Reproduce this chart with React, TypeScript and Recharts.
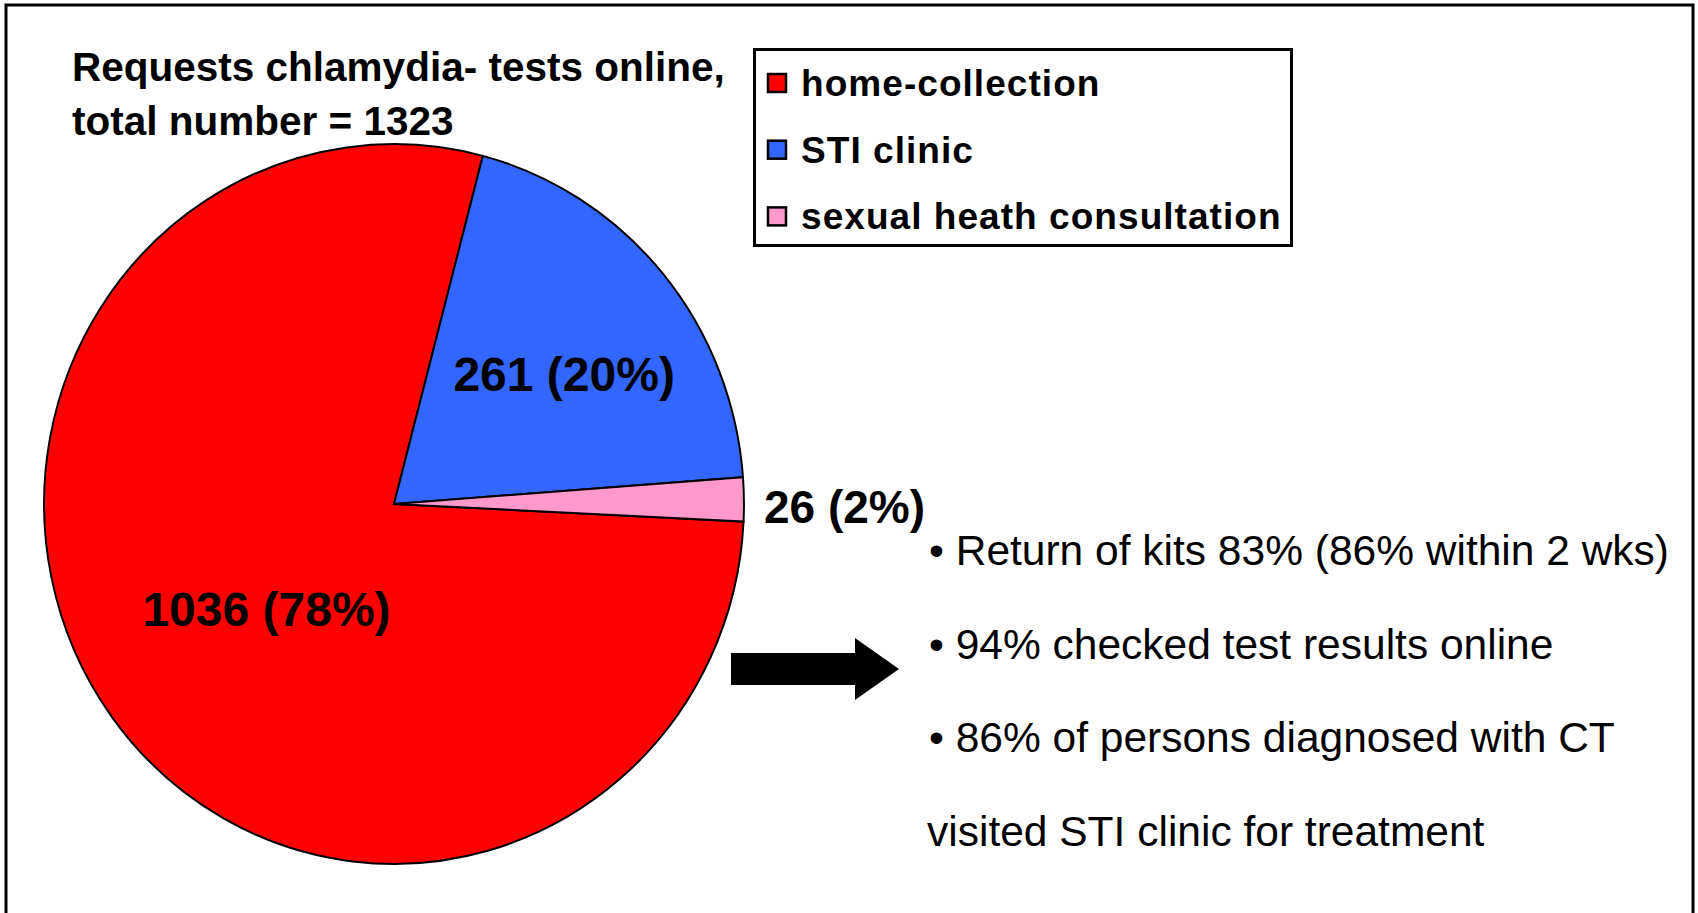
import React from 'react';
import { PieChart, Pie, Cell, Legend } from 'recharts';

const categories = ['home-collection', 'STI clinic', 'sexual heath consultation'];
const counts = [1036, 261, 26];
const percents = [78, 20, 2];
const colors = ['#FF0000', '#3366FF', '#FF99CC'];
const titleLines = ['Requests chlamydia- tests online,', 'total number = 1323'];
const bulletLines = [
  '\u2022 Return of kits 83% (86% within 2 wks)',
  '\u2022 94% checked test results online',
  '\u2022 86% of persons diagnosed with CT',
  'visited STI clinic for treatment',
];

const data = categories.map((name, i) => ({ name, value: counts[i], pct: percents[i] }));

const FONT = '"Liberation Sans", Arial, Helvetica, sans-serif';
const RAD = Math.PI / 180;
const CX = 394;
const CY = 504;

const renderLabel = (props: any) => {
  const { cx, cy, midAngle, outerRadius, index } = props;
  const d = data[index];
  const text = `${d.value} (${d.pct}%)`;
  if (index === 2) {
    const r = outerRadius + 14;
    const x = cx + r * Math.cos(-midAngle * RAD);
    const y = cy + r * Math.sin(-midAngle * RAD);
    return (
      <text x={x} y={y + 24} textAnchor="start" fontFamily={FONT} fontWeight="bold" fontSize={46} fill="#000">
        {text}
      </text>
    );
  }
  const frac = index === 0 ? 0.465 : 0.6;
  const r = outerRadius * frac;
  const x = cx + r * Math.cos(-midAngle * RAD);
  const y = cy + r * Math.sin(-midAngle * RAD);
  return (
    <text x={x + 6} y={y + 24} textAnchor="middle" fontFamily={FONT} fontWeight="bold" fontSize={48} fill="#000">
      {text}
    </text>
  );
};

const LegendBox = () => (
  <svg width={540} height={199} style={{ display: 'block' }}>
    <rect x={1.5} y={1.5} width={537} height={196} fill="#fff" stroke="#000" strokeWidth={3} />
    {categories.map((c, i) => {
      const cyy = 35 + i * 66.7;
      return (
        <g key={c}>
          <rect x={15} y={cyy - 9} width={18} height={18} fill={colors[i]} stroke="#000" strokeWidth={2.5} />
          <text x={48} y={cyy + 13} fontFamily={FONT} fontWeight="bold" fontSize={37} fill="#000" letterSpacing={1.05}>
            {c}
          </text>
        </g>
      );
    })}
  </svg>
);

const ellipseCss = `.ellip .recharts-pie-sector { transform-origin: ${CX}px ${CY}px; transform: scale(0.983, 1.011); }`;

export default function App() {
  return (
    <div style={{ position: 'absolute', left: 0, top: 0, width: 1698, height: 913, overflow: 'hidden', background: '#fff' }}>
      <style>{ellipseCss}</style>
      <svg width={1698} height={913} style={{ position: 'absolute', left: 0, top: 0 }}>
        <rect x={6} y={5} width={1687} height={960} fill="#fff" stroke="#000" strokeWidth={3} />
        {titleLines.map((t, i) => (
          <text key={t} x={72} y={81 + i * 54} fontFamily={FONT} fontWeight="bold" fontSize={40.5} fill="#000">
            {t}
          </text>
        ))}
        {bulletLines.map((t, i) => (
          <text key={t} x={i === 3 ? 927 : 929} y={565 + i * 93.7} fontFamily={FONT} fontSize={42.5} fill="#000">
            {t}
          </text>
        ))}
        <polygon points="731,653 855,653 855,638 899,669 855,700 855,685 731,685" fill="#000" />
      </svg>
      <div style={{ position: 'absolute', left: 0, top: 0 }}>
        <PieChart className="ellip" width={1698} height={913} margin={{ top: 0, right: 0, bottom: 0, left: 0 }}>
          <Pie
            data={data}
            dataKey="value"
            nameKey="name"
            cx={CX}
            cy={CY}
            outerRadius={356}
            startAngle={-2.8}
            endAngle={-362.8}
            stroke="#000"
            strokeWidth={2}
            labelLine={false}
            label={renderLabel}
            isAnimationActive={false}
          >
            {data.map((d, i) => (
              <Cell key={d.name} fill={colors[i]} />
            ))}
          </Pie>
          <Legend
            content={() => <LegendBox />}
            wrapperStyle={{ position: 'absolute', left: 753, top: 48, width: 540, height: 199 }}
          />
        </PieChart>
      </div>
    </div>
  );
}
